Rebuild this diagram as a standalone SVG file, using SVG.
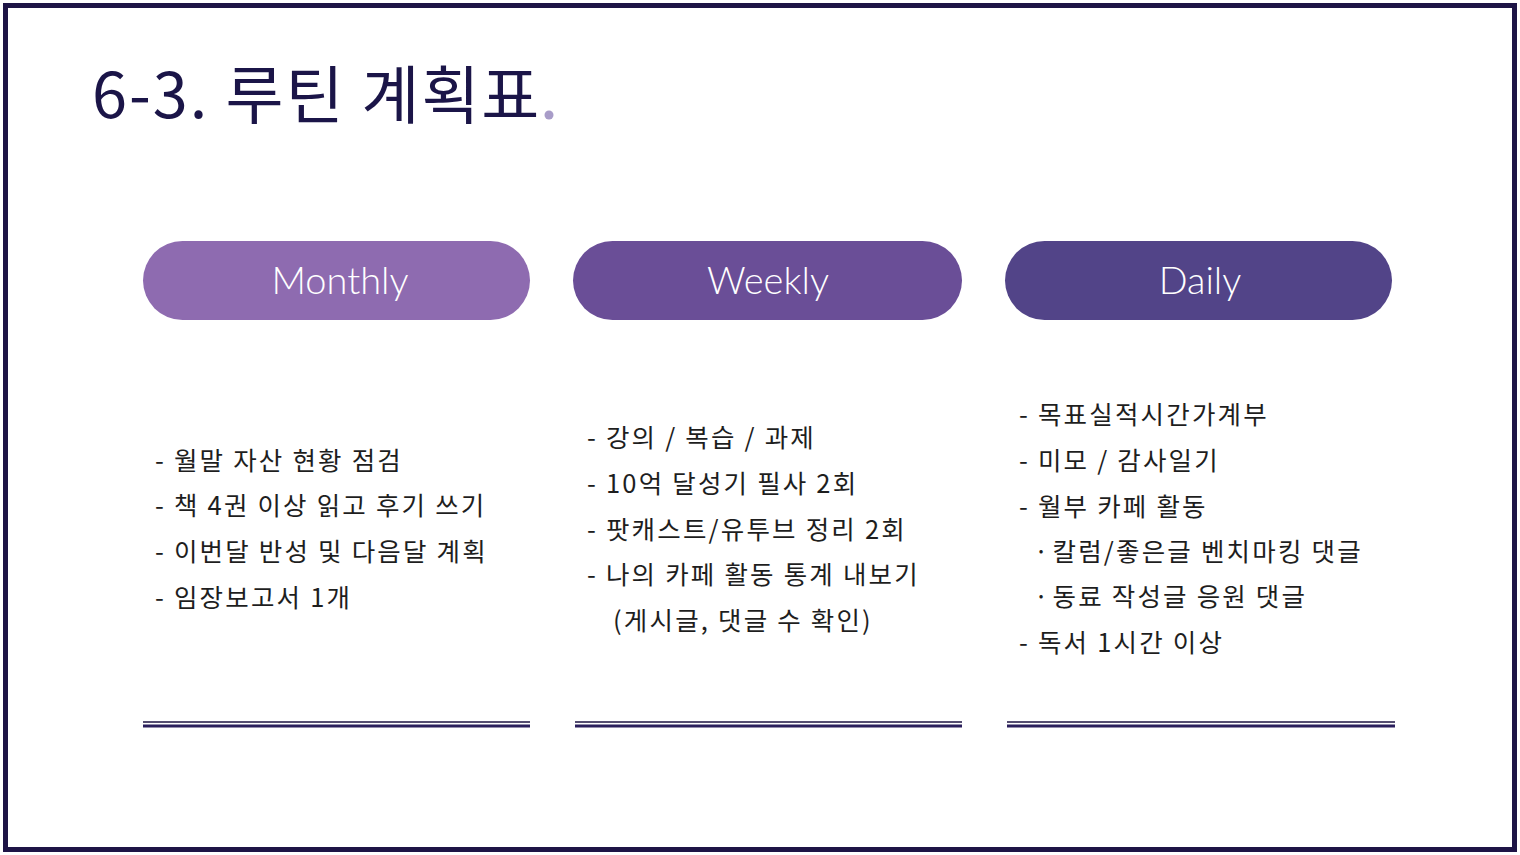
<svg xmlns="http://www.w3.org/2000/svg" width="1520" height="855" viewBox="0 0 1520 855">
<style>
.title{font-family:"Noto Sans CJK KR","Noto Sans",sans-serif;font-size:63px;fill:#1b1548;font-weight:400;letter-spacing:2px}
.pill-t{font-family:"Lato","Open Sans",sans-serif;font-size:38px;fill:#ffffff;font-weight:300;text-anchor:middle}
.body{font-family:"Noto Sans CJK KR","Noto Sans",sans-serif;font-size:25.5px;fill:#1e1e1e;letter-spacing:2.2px}
.rule-thin{stroke:#1b1240;stroke-width:1.5}
.rule-thick{stroke:#2a1f5c;stroke-width:3}
</style>
<rect x="0" y="0" width="1520" height="855" fill="#ffffff"/>
<rect x="5.5" y="5.5" width="1509" height="844" fill="none" stroke="#1e1446" stroke-width="5"/>
<g id="title">
<text class="title" x="92" y="118">6-3. 루틴 계획표</text>
<circle cx="549" cy="115" r="4.5" fill="#a89cc8"/>
</g>
<g id="monthly">
<rect x="143" y="241" width="387" height="79" rx="39.5" fill="#8e6bb0"/>
<text class="pill-t" x="340" y="294">Monthly</text>
</g>
<g id="weekly">
<rect x="573" y="241" width="389" height="79" rx="39.5" fill="#6a4e97"/>
<text class="pill-t" x="768" y="294">Weekly</text>
</g>
<g id="daily">
<rect x="1005" y="241" width="387" height="79" rx="39.5" fill="#524488"/>
<text class="pill-t" x="1200" y="294">Daily</text>
</g>
<g id="monthly-list">
<text class="body" x="155" y="470">- 월말 자산 현황 점검</text>
<text class="body" x="155" y="515">- 책 4권 이상 읽고 후기 쓰기</text>
<text class="body" x="155" y="561">- 이번달 반성 및 다음달 계획</text>
<text class="body" x="155" y="607">- 임장보고서 1개</text>
</g>
<g id="weekly-list">
<text class="body" x="587" y="447">- 강의 / 복습 / 과제</text>
<text class="body" x="587" y="493">- 10억 달성기 필사 2회</text>
<text class="body" x="587" y="539">- 팟캐스트/유투브 정리 2회</text>
<text class="body" x="587" y="584">- 나의 카페 활동 통계 내보기</text>
<text class="body" x="613" y="630">(게시글, 댓글 수 확인)</text>
</g>
<g id="daily-list">
<text class="body" x="1019" y="424">- 목표실적시간가계부</text>
<text class="body" x="1019" y="470">- 미모 / 감사일기</text>
<text class="body" x="1019" y="516">- 월부 카페 활동</text>
<text class="body" x="1034" y="561">·<tspan dx="2">칼럼/좋은글 벤치마킹 댓글</tspan></text>
<text class="body" x="1034" y="606">·<tspan dx="2">동료 작성글 응원 댓글</tspan></text>
<text class="body" x="1019" y="652">- 독서 1시간 이상</text>
</g>
<g id="connectors">
<line class="rule-thin" x1="143" y1="722" x2="530" y2="722"/>
<line class="rule-thick" x1="143" y1="726" x2="530" y2="726"/>
<line class="rule-thin" x1="575" y1="722" x2="962" y2="722"/>
<line class="rule-thick" x1="575" y1="726" x2="962" y2="726"/>
<line class="rule-thin" x1="1007" y1="722" x2="1395" y2="722"/>
<line class="rule-thick" x1="1007" y1="726" x2="1395" y2="726"/>
</g>
</svg>
